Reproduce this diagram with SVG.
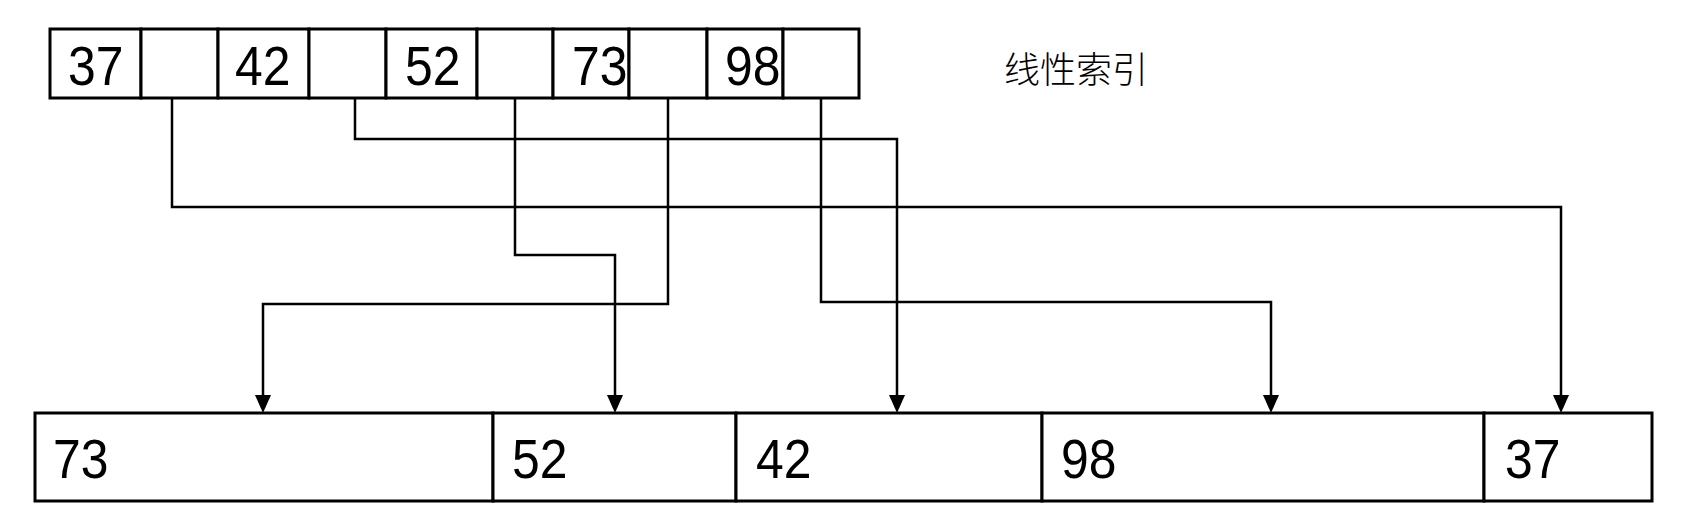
<svg xmlns="http://www.w3.org/2000/svg" width="1697" height="530" viewBox="0 0 1697 530">
  <style>
    .cell { fill: #fff; stroke: #000; stroke-width: 3; }
    .num { font-family: "Liberation Sans", Arial, sans-serif; font-size: 56px; fill: #000; }
    .conn { fill: none; stroke: #000; stroke-width: 2.5; stroke-linejoin: miter; }
    .title { font-family: "Noto Sans CJK SC", sans-serif; font-size: 36px; font-weight: 300; fill: #000; }
  </style>
  <defs>
    <marker id="arrow" viewBox="0 0 18 16" markerWidth="18" markerHeight="16" refX="0" refY="8" orient="auto" markerUnits="userSpaceOnUse">
      <path d="M0,0 L18,8 L0,16 z" fill="#000"/>
    </marker>
  </defs>
  <rect width="1697" height="530" fill="#fff"/>

  <!-- linear index (top row) -->
  <g id="idx-37">
    <rect class="cell" x="50" y="29" width="91" height="69"/>
    <rect class="cell" x="141" y="29" width="77" height="69"/>
    <text class="num" transform="translate(68,85) scale(0.89,1)">37</text>
  </g>
  <g id="idx-42">
    <rect class="cell" x="218" y="29" width="91" height="69"/>
    <rect class="cell" x="309" y="29" width="77" height="69"/>
    <text class="num" transform="translate(235,85) scale(0.89,1)">42</text>
  </g>
  <g id="idx-52">
    <rect class="cell" x="386" y="29" width="91" height="69"/>
    <rect class="cell" x="477" y="29" width="76" height="69"/>
    <text class="num" transform="translate(405,85) scale(0.89,1)">52</text>
  </g>
  <g id="idx-73">
    <rect class="cell" x="553" y="29" width="76" height="69"/>
    <rect class="cell" x="629" y="29" width="78" height="69"/>
    <text class="num" transform="translate(572,85) scale(0.89,1)">73</text>
  </g>
  <g id="idx-98">
    <rect class="cell" x="707" y="29" width="76" height="69"/>
    <rect class="cell" x="783" y="29" width="76" height="69"/>
    <text class="num" transform="translate(725,85) scale(0.89,1)">98</text>
  </g>

  <g id="label">
    <text class="title" x="1004" y="83">线性索引</text>
  </g>

  <!-- records (bottom row) -->
  <g id="rec-73">
    <rect class="cell" x="35" y="413" width="458" height="88"/>
    <text class="num" transform="translate(53,478) scale(0.89,1)">73</text>
  </g>
  <g id="rec-52">
    <rect class="cell" x="493" y="413" width="243" height="88"/>
    <text class="num" transform="translate(512,478) scale(0.89,1)">52</text>
  </g>
  <g id="rec-42">
    <rect class="cell" x="736" y="413" width="306" height="88"/>
    <text class="num" transform="translate(756,478) scale(0.89,1)">42</text>
  </g>
  <g id="rec-98">
    <rect class="cell" x="1042" y="413" width="442" height="88"/>
    <text class="num" transform="translate(1061,478) scale(0.89,1)">98</text>
  </g>
  <g id="rec-37">
    <rect class="cell" x="1484" y="413" width="168" height="88"/>
    <text class="num" transform="translate(1505,478) scale(0.89,1)">37</text>
  </g>

  <!-- connectors -->
  <g id="connectors">
    <path class="conn" d="M172,98 V207 H1561 V395" marker-end="url(#arrow)"/>
    <path class="conn" d="M355,98 V139 H897 V395" marker-end="url(#arrow)"/>
    <path class="conn" d="M515,98 V255 H615 V395" marker-end="url(#arrow)"/>
    <path class="conn" d="M668,98 V304 H263 V395" marker-end="url(#arrow)"/>
    <path class="conn" d="M821,98 V302 H1271 V395" marker-end="url(#arrow)"/>
  </g>
</svg>
